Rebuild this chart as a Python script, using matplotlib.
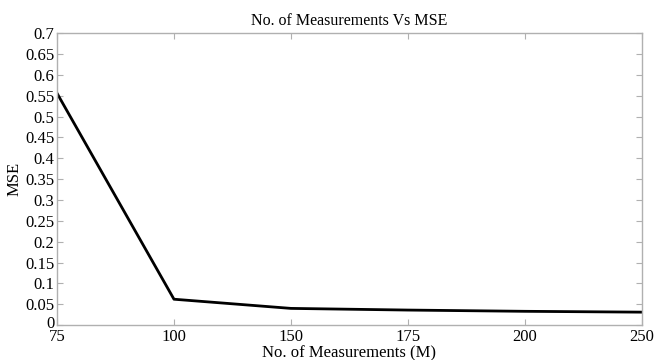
import matplotlib
matplotlib.use("Agg")
import matplotlib.pyplot as plt
import matplotlib.transforms as mtransforms
from matplotlib.ticker import FuncFormatter

# data
measurements = ["75", "100", "150", "175", "200", "250"]
mse = [0.556, 0.062, 0.040, 0.036, 0.033, 0.031]
y_ticks = [0, 0.05, 0.1, 0.15, 0.2, 0.25, 0.3, 0.35, 0.4, 0.45, 0.5, 0.55, 0.6, 0.65, 0.7]

plt.rcParams['font.family'] = ['Liberation Serif', 'DejaVu Serif']

fig = plt.figure(figsize=(6.55, 3.6), dpi=100)
ax = fig.add_axes([0.087, 0.097, 0.893, 0.811])

x = list(range(len(measurements)))
ax.plot(x, mse, color='black', linewidth=2)

ax.set_xlim(0, len(measurements) - 1)
ax.set_ylim(0, 0.7)
ax.set_xticks(x)
ax.set_xticklabels(measurements)
ax.set_yticks(y_ticks)
ax.yaxis.set_major_formatter(FuncFormatter(lambda v, p: '%g' % v))

grey = '#b0b0b0'
for s in ax.spines.values():
    s.set_color(grey)
    s.set_linewidth(1)
ax.tick_params(direction='in', length=4, color=grey, labelsize=12, pad=2,
               top=True, right=True)
ax.tick_params(axis='x', pad=3)

# lift the "0" label a little so it sits above "75", as in the reference
fig.canvas.draw()
zero_lbl = ax.get_yticklabels()[0]
zero_lbl.set_transform(zero_lbl.get_transform() +
                       mtransforms.ScaledTranslation(0, 2.5 / 72, fig.dpi_scale_trans))

ax.set_title('No. of Measurements Vs MSE', fontsize=11.5, pad=6)
ax.set_xlabel('No. of Measurements (M)', fontsize=12, labelpad=0)
ax.set_ylabel('MSE', fontsize=12, labelpad=2)

fig.savefig('out.png', dpi=100)
